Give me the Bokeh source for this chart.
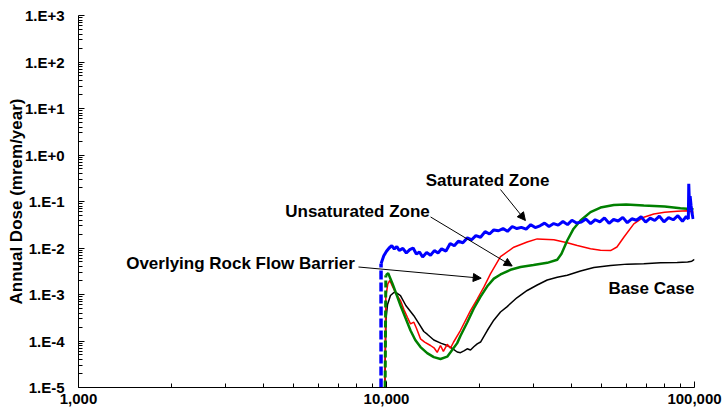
from bokeh.plotting import figure
from bokeh.models import Range1d, FixedTicker, CustomJSTickFormatter, Arrow, NormalHead, Label
from bokeh.embed import file_html
from bokeh.resources import INLINE

# ---------------- data (years, mrem/year) ----------------
base_x = [9874, 9960, 10075, 10300, 10590, 10780, 11100, 11555, 12268, 12771, 13218, 13557,
          14243, 15000, 15744, 16300, 16963, 17390, 17900, 18281, 18737, 19206, 19702, 20200,
          21238, 22300, 23448, 24654, 26500, 28628, 30853, 33257, 35837, 38622, 42655, 47112,
          53390, 60470, 68460, 77550, 87870, 95000, 98000, 100000]
base_y = [1e-5, 3.0e-4, 6.0e-4, 9.5e-4, 1.12e-3, 1.08e-3, 9.5e-4, 5.8e-4, 3.5e-4, 2.3e-4, 1.6e-4, 1.4e-4,
          1.05e-4, 9.0e-5, 8.0e-5, 7.0e-5, 5.8e-5, 5.6e-5, 6.2e-5, 6.8e-5, 6.4e-5, 7.5e-5, 8.7e-5, 9.5e-5,
          1.68e-4, 2.8e-4, 4.2e-4, 5.5e-4, 8.5e-4, 1.22e-3, 1.6e-3, 2.05e-3, 2.35e-3, 2.6e-3, 3.2e-3, 3.8e-3,
          4.2e-3, 4.5e-3, 4.6e-3, 4.8e-3, 4.9e-3, 5.0e-3, 5.2e-3, 5.7e-3]

rock_x = [9874, 9950, 10100, 10249, 10459, 10777, 11104, 11382, 11700, 11966, 12268, 12500,
          12896, 13300, 13896, 14300, 14609, 14973, 15300, 15744, 16137, 16500, 17390, 18737,
          19702, 20706, 21772, 23448, 25900, 28628, 30853, 34937, 38622, 41620, 45956, 49524,
          53390, 56000, 58960, 63530, 68460, 73770, 80000, 87870, 95000, 99260]
rock_y = [1e-5, 9.0e-4, 1.7e-3, 2.0e-3, 1.5e-3, 1.0e-3, 7.4e-4, 4.8e-4, 3.2e-4, 2.34e-4, 2.54e-4, 1.9e-4,
          1.11e-4, 9.5e-5, 8.0e-5, 7.0e-5, 5.7e-5, 8.0e-5, 6.0e-5, 8.5e-5, 7.0e-5, 9.4e-5, 1.7e-4, 4.5e-4,
          8.0e-4, 1.44e-3, 2.8e-3, 6.5e-3, 1.04e-2, 1.35e-2, 1.57e-2, 1.5e-2, 1.3e-2, 1.13e-2, 9.6e-3, 8.9e-3,
          8.8e-3, 1.05e-2, 1.7e-2, 3.3e-2, 4.6e-2, 5.4e-2, 5.9e-2, 6.2e-2, 6.3e-2, 5.9e-2]

unsat_rise_x = [9900, 9950]
unsat_rise_y = [1e-5, 2.6e-3]
unsat_x = [9950, 10127, 10459, 10777, 11104, 11555, 11966, 12400, 12896, 13557, 14243, 14973,
           15744, 16137, 16963, 17390, 18281, 19206, 20200, 21238, 22310, 23448, 25268, 27231,
           30000, 33257, 35837, 37000, 38622, 40500, 42655, 45956, 49524, 54700, 60000, 68460,
           80000, 90000, 99260]
unsat_y = [2.6e-3, 2.87e-3, 1.7e-3, 1.0e-3, 5.8e-4, 3.0e-4, 1.68e-4, 1.05e-4, 7.4e-5, 5.5e-5, 4.5e-5, 4.1e-5,
           4.6e-5, 5.7e-5, 9.0e-5, 1.3e-4, 2.5e-4, 5.0e-4, 9.0e-4, 1.5e-3, 2.2e-3, 2.7e-3, 3.4e-3, 3.9e-3,
           4.3e-3, 4.8e-3, 5.6e-3, 7.5e-3, 1.45e-2, 2.6e-2, 3.9e-2, 5.9e-2, 7.4e-2, 8.4e-2, 8.6e-2, 8.2e-2,
           7.8e-2, 7.2e-2, 6.8e-2]

sat_rise_x = [9600, 9600]
sat_rise_y = [1e-5, 4.6e-3]
sat_x = [9600, 9800, 10000, 10200, 10400, 10600, 10800, 11000, 11300, 11600, 11900, 12200,
         12500, 12800, 13100, 13500, 13900, 14300, 14700, 15100, 15600, 16100, 16600, 17100,
         17700, 18300, 18900, 19500, 20200, 20900, 21600, 22300, 23100, 23900, 24700, 25600,
         26500, 27400, 28400, 29400, 30400, 31500, 32600, 33700, 34900, 36100, 37400, 38700,
         40000, 41400, 42900, 44400, 46000, 47600, 49300, 51000, 52800, 54600, 56500, 58500,
         60500, 62600, 64800, 67100, 69400, 71800, 74300, 76900, 79600, 82400, 85300, 88300,
         91400, 94000, 95500, 95800, 96200, 96800, 97500, 98200, 99000]
sat_y = [0.0046, 0.0068, 0.0085, 0.0100, 0.0112, 0.0095, 0.0108, 0.0088, 0.0098, 0.0078, 0.0092, 0.0100,
         0.0074, 0.0082, 0.0064, 0.0080, 0.0070, 0.0088, 0.0078, 0.0096, 0.0086, 0.0125, 0.0112, 0.0140,
         0.0130, 0.0165, 0.0150, 0.0185, 0.0170, 0.0225, 0.0200, 0.0245, 0.0235, 0.0262, 0.0228, 0.0290,
         0.0262, 0.0278, 0.0255, 0.0318, 0.0275, 0.0300, 0.0342, 0.0290, 0.0335, 0.0310, 0.0372, 0.0318,
         0.0395, 0.0345, 0.0360, 0.0420, 0.0335, 0.0405, 0.0365, 0.0445, 0.0340, 0.0410, 0.0380, 0.0455,
         0.0350, 0.0425, 0.0395, 0.0470, 0.0360, 0.0440, 0.0390, 0.0485, 0.0365, 0.0450, 0.0405, 0.0495,
         0.0375, 0.0480, 0.0420, 0.2400, 0.1100, 0.1300, 0.0800, 0.0550, 0.0420]

x_major = [1000, 10000, 100000]
y_major = [1e-5, 1e-4, 1e-3, 1e-2, 1e-1, 1e0, 1e1, 1e2, 1e3]

FONT = "Liberation Sans"

p = figure(width=723, height=420, x_axis_type="log", y_axis_type="log",
           x_range=Range1d(1000, 100000), y_range=Range1d(1e-5, 1e3),
           output_backend="svg", toolbar_location=None,
           min_border_left=78, min_border_right=29, min_border_top=15, min_border_bottom=33)
p.outline_line_color = None
p.xgrid.visible = False
p.ygrid.visible = False
p.background_fill_color = "white"
p.border_fill_color = "white"

x_minor = [m * d for d in (1000, 10000) for m in range(2, 10)]
y_minor = [m * d for d in y_major[:-1] for m in range(2, 10)]
p.xaxis.ticker = FixedTicker(ticks=x_major, minor_ticks=x_minor)
p.yaxis.ticker = FixedTicker(ticks=y_major, minor_ticks=y_minor)
p.xaxis.formatter = CustomJSTickFormatter(code="return Math.round(tick).toLocaleString('en-US');")
p.yaxis.formatter = CustomJSTickFormatter(
    code="const e = Math.round(Math.log10(tick)); return '1.E' + (e >= 0 ? '+' : '') + e;")

for ax in (p.xaxis[0], p.yaxis[0]):
    ax.major_tick_in = 6
    ax.major_tick_out = 0
    ax.minor_tick_in = 4
    ax.minor_tick_out = 0
    ax.axis_line_color = "black"
    ax.major_tick_line_color = "black"
    ax.minor_tick_line_color = "black"
    ax.major_label_text_font = FONT
    ax.major_label_text_font_style = "bold"
    ax.major_label_text_font_size = "15px"
    ax.major_label_text_color = "black"

p.xaxis.major_label_standoff = 6
p.yaxis.major_label_standoff = 14
p.yaxis.axis_label = "Annual Dose (mrem/year)"
p.yaxis.axis_label_text_font = FONT
p.yaxis.axis_label_text_font_style = "bold"
p.yaxis.axis_label_text_font_size = "17px"
p.yaxis.axis_label_text_color = "black"
p.yaxis.axis_label_standoff = -4

p.line(base_x, base_y, line_color="black", line_width=1.5)
p.line(rock_x, rock_y, line_color="#FF0000", line_width=1.5)
p.line(unsat_rise_x, unsat_rise_y, line_color="#008000", line_width=3, line_dash="7 3")
p.line(unsat_x, unsat_y, line_color="#008000", line_width=2.5)
p.line(sat_rise_x, sat_rise_y, line_color="#0000FF", line_width=3.5, line_dash="9 3")
p.line(sat_x, sat_y, line_color="#0000FF", line_width=3)

def lab(x, y, t):
    p.add_layout(Label(x=x, y=y, text=t, text_align="center", text_baseline="middle",
                       text_font=FONT, text_font_style="bold", text_font_size="17px",
                       text_color="black"))

lab(21280, 0.283, "Saturated Zone")
lab(8050, 0.061, "Unsaturated Zone")
lab(3357, 4.6e-3, "Overlying Rock Flow Barrier")
lab(72450, 1.35e-3, "Base Case")

def arr(x0, y0, x1, y1):
    p.add_layout(Arrow(end=NormalHead(size=8, fill_color="black", line_color="black", line_width=1),
                       x_start=x0, y_start=y0, x_end=x1, y_end=y1,
                       line_color="black", line_width=1))

arr(23440, 0.181, 28250, 0.039)
arr(13900, 0.0465, 25590, 4.1e-3)
arr(8110, 3.9e-3, 20300, 2.24e-3)

open("out.html", "w").write(file_html(p, INLINE))
